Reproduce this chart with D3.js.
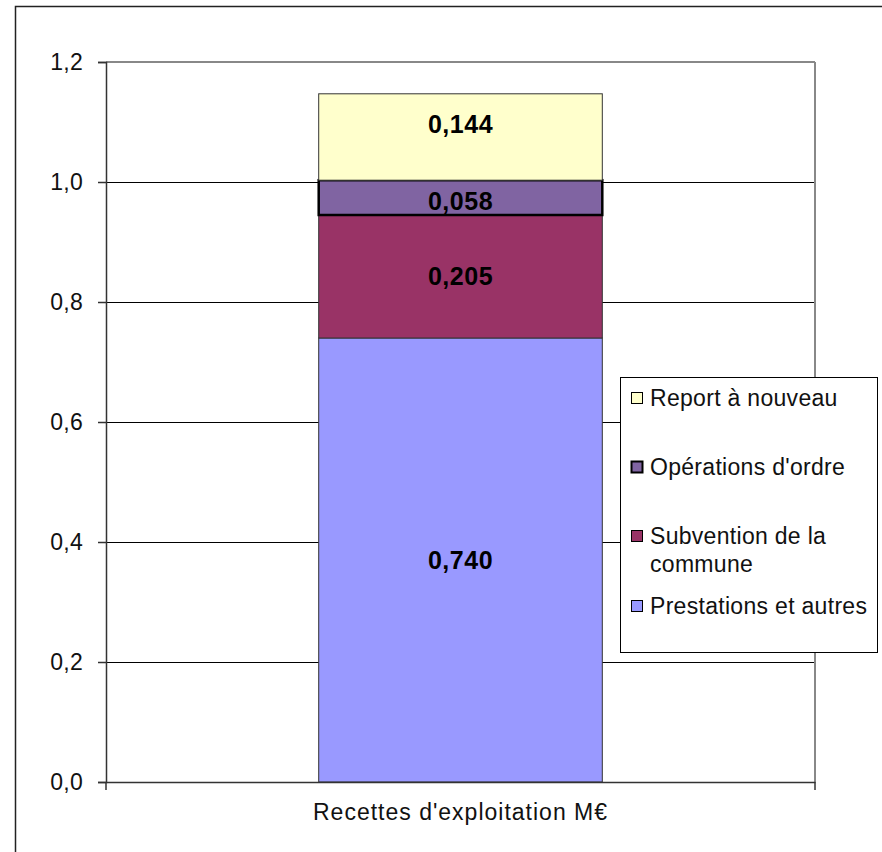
<!DOCTYPE html>
<html>
<head>
<meta charset="utf-8">
<script src="https://cdn.jsdelivr.net/npm/d3@7"></script>
<style>
html, body { margin: 0; padding: 0; background: #fff; }
svg { display: block; }
text { font-family: "Liberation Sans", Arial, sans-serif; }
</style>
</head>
<body>
<svg id="chart" width="882" height="852"></svg>
<script>
const categories = ["Recettes d'exploitation M€"];
const seriesNames = ["Prestations et autres", "Subvention de la commune", "Opérations d'ordre", "Report à nouveau"];
const seriesValues = [0.740, 0.205, 0.058, 0.144];
const valueLabels = ["0,740", "0,205", "0,058", "0,144"];
const seriesColors = ["#9999FF", "#993366", "#8064A2", "#FFFFCC"];
const yTicks = [0, 0.2, 0.4, 0.6, 0.8, 1.0, 1.2];
const legendOrder = ["Report à nouveau", "Opérations d'ordre", "Subvention de la commune", "Prestations et autres"];

const svg = d3.select("#chart");
const L = 106, R = 815, T = 62, B = 782;
const fmt = d => d3.format(".1f")(d).replace(".", ",");

// outer frame
svg.append("rect").attr("x", 15.5).attr("y", 6.5).attr("width", 1000).attr("height", 1000)
  .attr("fill", "none").attr("stroke", "#222").attr("stroke-width", 1.5);

const y = d3.scaleLinear().domain([0, 1.2]).range([B, T]);
const x = d3.scaleBand().domain(categories).range([L, R]).paddingInner(0.6).paddingOuter(0.3);

// gridlines
svg.append("g").selectAll("line").data(yTicks.filter(t => t > 0 && t < 1.2)).join("line")
  .attr("x1", L).attr("x2", R).attr("y1", d => Math.round(y(d)) + 0.5).attr("y2", d => Math.round(y(d)) + 0.5)
  .attr("stroke", "#000").attr("stroke-width", 1);

// plot border top & right
svg.append("line").attr("x1", L).attr("x2", R).attr("y1", T).attr("y2", T).attr("stroke", "#888").attr("stroke-width", 2);
svg.append("line").attr("x1", R).attr("x2", R).attr("y1", T).attr("y2", B).attr("stroke", "#888").attr("stroke-width", 2);

// stacked bar
const row = {cat: categories[0]};
seriesNames.forEach((s, i) => row[s] = seriesValues[i]);
const stack = d3.stack().keys(seriesNames)([row]);

const bars = svg.append("g");
stack.forEach((layer, i) => {
  const d = layer[0];
  const isOrd = i === 2;
  bars.append("rect")
    .attr("x", x(d.data.cat))
    .attr("width", x.bandwidth())
    .attr("y", y(d[1]))
    .attr("height", y(d[0]) - y(d[1]))
    .attr("fill", seriesColors[i])
    .attr("stroke", isOrd ? "#000" : "#333")
    .attr("stroke-width", isOrd ? 2.5 : 1);
});
stack.forEach((layer, i) => {
  const d = layer[0];
  const cy = (y(d[0]) + y(d[1])) / 2 + (i === 3 ? -13 : (i === 2 ? 4 : 0));
  bars.append("text")
    .attr("x", x(d.data.cat) + x.bandwidth() / 2)
    .attr("y", cy)
    .attr("dy", "0.35em")
    .attr("text-anchor", "middle")
    .attr("font-size", 25).attr("font-weight", "bold")
    .attr("letter-spacing", 0.5)
    .attr("fill", "#000")
    .text(valueLabels[i]);
});

// y axis
const yAxis = svg.append("g").attr("transform", `translate(${L},0)`)
  .call(d3.axisLeft(y).tickValues(yTicks).tickFormat(fmt).tickSize(8).tickPadding(15));
yAxis.select(".domain").attr("stroke", "#333").attr("stroke-width", 1.5);
yAxis.selectAll(".tick line").attr("stroke", "#333").attr("stroke-width", 1.5);
yAxis.selectAll(".tick text").attr("font-size", 23).attr("fill", "#111")
  .attr("letter-spacing", 0.3).attr("font-family", "'Liberation Sans', Arial, sans-serif");

// x axis
const xAxis = svg.append("g").attr("transform", `translate(0,${B})`)
  .call(d3.axisBottom(x).tickSize(0).tickPadding(22));
xAxis.select(".domain").attr("stroke", "#333").attr("stroke-width", 1.5);
xAxis.selectAll(".tick text").attr("font-size", 23).attr("fill", "#111")
  .attr("letter-spacing", 1.0).attr("font-family", "'Liberation Sans', Arial, sans-serif");
xAxis.selectAll("line.edge").data(x.range()).join("line").attr("class", "edge")
  .attr("x1", d => d).attr("x2", d => d).attr("y1", 0).attr("y2", 8)
  .attr("stroke", "#333").attr("stroke-width", 1.5);

// legend
const lg = svg.append("g");
lg.append("rect").attr("x", 620.5).attr("y", 377.5).attr("width", 257).attr("height", 275)
  .attr("fill", "#fff").attr("stroke", "#000").attr("stroke-width", 1);
const legendY = [398, 467, 536, 606];
legendOrder.forEach((name, k) => {
  const i = seriesNames.indexOf(name);
  const yy = legendY[k];
  const isOrd = i === 2;
  lg.append("rect").attr("x", 631.5).attr("y", yy - 5.5).attr("width", 11).attr("height", 11)
    .attr("fill", seriesColors[i]).attr("stroke", "#000").attr("stroke-width", isOrd ? 2 : 1);
  const t = lg.append("text").attr("x", 650).attr("y", yy).attr("dy", "0.35em")
    .attr("font-size", 23).attr("letter-spacing", 0.3).attr("fill", "#111");
  if (name === "Subvention de la commune") {
    t.append("tspan").attr("x", 650).text("Subvention de la");
    t.append("tspan").attr("x", 650).attr("dy", 28).text("commune");
  } else {
    t.text(name);
  }
});
</script>
</body>
</html>
